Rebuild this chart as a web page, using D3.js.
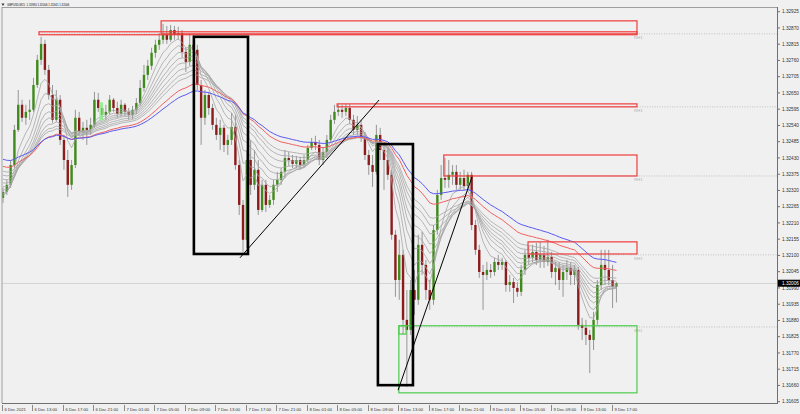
<!DOCTYPE html>
<html><head><meta charset="utf-8">
<script src="https://cdn.jsdelivr.net/npm/d3@7"></script>
<style>html,body{margin:0;padding:0;background:#f0f0f0;}svg{display:block;font-family:"Liberation Sans",Arial,sans-serif;}</style>
</head><body>
<svg id="c" width="800" height="414"></svg>
<script>
// ---------------- DATA ----------------
const title = "GBPUSD,M15  1.31980 1.32006 1.31941 1.32006";

const openP = [
1.32295,1.32315,1.32339,1.32406,1.32525,1.32610,1.32566,1.32586,1.32593,1.32677,
1.32762,1.32816,1.32728,1.32643,1.32559,1.32627,1.32491,1.32423,1.32339,1.32406,
1.32566,1.32518,1.32532,1.32525,1.32542,1.32627,1.32599,1.32576,1.32586,1.32627,
1.32599,1.32579,1.32610,1.32586,1.32576,1.32593,1.32616,1.32667,1.32711,1.32742,
1.32786,1.32813,1.32830,1.32847,1.32830,1.32863,1.32847,1.32853,1.32789,1.32755,
1.32813,1.32796,1.32677,1.32566,1.32643,1.32599,1.32542,1.32508,1.32532,1.32474,
1.32491,1.32535,1.32406,1.32271,1.32153,1.32423,1.32339,1.32390,1.32254,1.32339,
1.32271,1.32288,1.32339,1.32356,1.32383,1.32430,1.32423,1.32410,1.32423,1.32406,
1.32423,1.32464,1.32484,1.32474,1.32423,1.32450,1.32491,1.32559,1.32586,1.32593,
1.32586,1.32599,1.32559,1.32525,1.32542,1.32498,1.32440,1.32406,1.32383,1.32508,
1.32457,1.32423,1.32373,1.32170,1.32017,1.32102,1.31882,1.31848,1.31983,1.31950,
1.32136,1.32068,1.31983,1.31950,1.32186,1.32305,1.32362,1.32356,1.32373,1.32383,
1.32339,1.32362,1.32335,1.32373,1.32203,1.32119,1.32044,1.32034,1.32051,1.32044,
1.32078,1.32068,1.32078,1.32000,1.32010,1.31990,1.31977,1.32051,1.32102,1.32092,
1.32112,1.32085,1.32102,1.32078,1.32095,1.32044,1.32058,1.32017,1.32044,1.32058,
1.32034,1.32051,1.31865,1.31855,1.31831,1.31814,1.31882,1.32000,1.32068,1.32051,
1.32017,1.31994];

const highP = [
1.32329,1.32356,1.32423,1.32542,1.32660,1.32627,1.32610,1.32627,1.32701,1.32779,
1.32840,1.32830,1.32745,1.32677,1.32660,1.32643,1.32508,1.32457,1.32423,1.32593,
1.32586,1.32552,1.32559,1.32566,1.32654,1.32650,1.32610,1.32610,1.32643,1.32633,
1.32620,1.32627,1.32616,1.32599,1.32606,1.32633,1.32694,1.32745,1.32762,1.32803,
1.32830,1.32853,1.32884,1.32877,1.32880,1.32877,1.32874,1.32863,1.32803,1.32850,
1.32847,1.32813,1.32694,1.32660,1.32654,1.32613,1.32566,1.32559,1.32542,1.32508,
1.32582,1.32576,1.32423,1.32288,1.32457,1.32491,1.32457,1.32423,1.32356,1.32356,
1.32305,1.32356,1.32383,1.32396,1.32457,1.32450,1.32440,1.32437,1.32434,1.32440,
1.32474,1.32498,1.32505,1.32491,1.32464,1.32508,1.32576,1.32610,1.32613,1.32610,
1.32613,1.32613,1.32576,1.32572,1.32559,1.32518,1.32457,1.32440,1.32542,1.32532,
1.32474,1.32464,1.32390,1.32186,1.32153,1.32119,1.31983,1.32017,1.32051,1.32170,
1.32180,1.32085,1.32017,1.32203,1.32322,1.32406,1.32430,1.32423,1.32406,1.32406,
1.32383,1.32390,1.32383,1.32383,1.32220,1.32136,1.32068,1.32078,1.32071,1.32092,
1.32102,1.32092,1.32085,1.32034,1.32024,1.32010,1.32068,1.32119,1.32132,1.32136,
1.32142,1.32146,1.32132,1.32153,1.32112,1.32078,1.32078,1.32068,1.32085,1.32078,
1.32068,1.32061,1.31889,1.31882,1.31848,1.31909,1.32017,1.32119,1.32119,1.32119,
1.32068,1.32010];

const lowP = [
1.32278,1.32305,1.32329,1.32396,1.32518,1.32552,1.32542,1.32559,1.32586,1.32667,
1.32745,1.32711,1.32627,1.32549,1.32552,1.32474,1.32390,1.32298,1.32322,1.32396,
1.32505,1.32491,1.32474,1.32508,1.32532,1.32586,1.32559,1.32559,1.32576,1.32586,
1.32566,1.32569,1.32572,1.32559,1.32562,1.32579,1.32606,1.32654,1.32694,1.32728,
1.32769,1.32796,1.32816,1.32816,1.32823,1.32830,1.32830,1.32769,1.32721,1.32742,
1.32762,1.32660,1.32474,1.32542,1.32576,1.32525,1.32491,1.32457,1.32450,1.32440,
1.32474,1.32390,1.32237,1.32112,1.32126,1.32305,1.32322,1.32237,1.32247,1.32247,
1.32261,1.32271,1.32315,1.32339,1.32362,1.32403,1.32396,1.32396,1.32390,1.32396,
1.32413,1.32457,1.32457,1.32406,1.32406,1.32430,1.32481,1.32545,1.32572,1.32566,
1.32572,1.32545,1.32508,1.32508,1.32484,1.32423,1.32373,1.32332,1.32373,1.32423,
1.32322,1.32356,1.32153,1.31960,1.31950,1.31831,1.31655,1.31831,1.31899,1.31933,
1.32034,1.31950,1.31916,1.31933,1.32170,1.32288,1.32329,1.32329,1.32339,1.32322,
1.32322,1.32322,1.32322,1.32186,1.32102,1.32024,1.31916,1.32017,1.32024,1.32031,
1.32051,1.32051,1.31977,1.31977,1.31939,1.31960,1.31963,1.32034,1.32068,1.32078,
1.32068,1.32058,1.32058,1.32065,1.32024,1.32000,1.31983,1.31960,1.32017,1.32000,
1.32000,1.31848,1.31814,1.31797,1.31702,1.31780,1.31865,1.31983,1.32000,1.32000,
1.31922,1.31941];

const closeP = [
1.32315,1.32339,1.32406,1.32525,1.32610,1.32566,1.32586,1.32593,1.32677,1.32762,
1.32816,1.32728,1.32643,1.32559,1.32627,1.32491,1.32423,1.32339,1.32406,1.32566,
1.32518,1.32532,1.32525,1.32542,1.32627,1.32599,1.32576,1.32586,1.32627,1.32599,
1.32579,1.32610,1.32586,1.32576,1.32593,1.32616,1.32667,1.32711,1.32742,1.32786,
1.32813,1.32830,1.32847,1.32830,1.32863,1.32847,1.32853,1.32789,1.32755,1.32813,
1.32796,1.32677,1.32566,1.32643,1.32599,1.32542,1.32508,1.32532,1.32474,1.32491,
1.32535,1.32406,1.32271,1.32153,1.32423,1.32339,1.32390,1.32254,1.32339,1.32271,
1.32288,1.32339,1.32356,1.32383,1.32430,1.32423,1.32410,1.32423,1.32406,1.32423,
1.32464,1.32484,1.32474,1.32423,1.32450,1.32491,1.32559,1.32586,1.32593,1.32586,
1.32599,1.32559,1.32525,1.32542,1.32498,1.32440,1.32406,1.32383,1.32508,1.32457,
1.32423,1.32373,1.32170,1.32017,1.32102,1.31882,1.31848,1.31983,1.31950,1.32136,
1.32068,1.31983,1.31950,1.32186,1.32305,1.32362,1.32356,1.32373,1.32383,1.32339,
1.32362,1.32335,1.32373,1.32203,1.32119,1.32044,1.32034,1.32051,1.32044,1.32078,
1.32068,1.32078,1.32000,1.32010,1.31990,1.31977,1.32051,1.32102,1.32092,1.32112,
1.32085,1.32102,1.32078,1.32095,1.32044,1.32058,1.32017,1.32044,1.32058,1.32034,
1.32051,1.31865,1.31855,1.31831,1.31814,1.31882,1.32000,1.32068,1.32051,1.32017,
1.31994,1.32006];

const timeLabels = ["6 Dec 2021","6 Dec 13:00","6 Dec 17:00","6 Dec 21:00","7 Dec 01:00","7 Dec 05:00",
"7 Dec 09:00","7 Dec 13:00","7 Dec 17:00","7 Dec 21:00","8 Dec 01:00","8 Dec 05:00","8 Dec 09:00",
"8 Dec 13:00","8 Dec 17:00","8 Dec 21:00","9 Dec 01:00","9 Dec 05:00","9 Dec 09:00","9 Dec 13:00","9 Dec 17:00"];
const barsPerLabel = 8;

const priceTicks = [1.32925,1.32870,1.32815,1.32760,1.32705,1.32650,1.32595,1.32540,1.32485,1.32430,
1.32375,1.32320,1.32265,1.32210,1.32155,1.32100,1.32045,1.31990,1.31935,1.31880,1.31825,1.31770,
1.31715,1.31660,1.31605];
const currentPrice = 1.32006;

// moving averages (periods in bars, start values read at the left edge)
const grayPeriods = [6, 9, 12, 15, 18, 22, 26, 30];
const graySeeds   = [1.32298,1.32308,1.32322,1.32335,1.32349,1.32362,1.32376,1.32390];
const redPeriod = 40, redSeed = 1.32406;
const bluePeriod = 50, blueSeed = 1.32430;

// drawn objects (bar index / price)
const zoneB0 = [9.45, 41.5, 87.7, 115.7, 137.8, 103.9, 103.9, 25.5];
const zoneB1 = [166.4,166.4,166.4,166.4,166.4,166.4,105.8, 26.0];
const zoneTop = [1.32857,1.32894,1.32613,1.32440,1.32146,1.31862,1.31862,1.32616];
const zoneBot = [1.32847,1.32850,1.32603,1.32369,1.32105,1.31635,1.31834,1.32559];
const zoneKind = ["res","res","res","res","res","sup","sup","mark"];

const boxB0 = [50.1, 98.4];
const boxB1 = [64.3, 107.6];
const boxTop = [1.32840, 1.32477];
const boxBot = [1.32105, 1.31661];

const trendB0 = [62.2, 103.7];
const trendB1 = [98.7, 123.1];
const trendP0 = [1.32092, 1.31644];
const trendP1 = [1.32626, 1.32366];

const levelPrice = [1.32850, 1.32603, 1.32369, 1.32102, 1.31858];
const levelB0 = [9.45, 87.7, 115.7, 137.8, 103.9];
const levelName = ["RH1","RH1","RH1","RH1","SH1"];

// ---------------- DRAW ----------------
const svg = d3.select("#c");
const P = {left:2, top:7, right:777, bottom:403};
const n = closeP.length;
const x = d3.scaleLinear().domain([0, n-1]).range([3, 3 + (n-1)*3.81]);
const y = d3.scaleLinear().domain([1.31605, 1.32925]).range([401.7, 11.7]);

svg.append("rect").attr("width",800).attr("height",414).attr("fill","#f0f0f0");
svg.append("defs").append("clipPath").attr("id","clip")
  .append("rect").attr("x",P.left).attr("y",P.top).attr("width",P.right-P.left).attr("height",P.bottom-P.top);
const g = svg.append("g").attr("clip-path","url(#clip)");

// bid line
g.append("line").attr("x1",P.left).attr("x2",P.right)
  .attr("y1",Math.round(y(currentPrice))+0.5).attr("y2",Math.round(y(currentPrice))+0.5)
  .attr("stroke","#d4d4d4").attr("stroke-width",1);

// level dotted lines
levelPrice.forEach((p,i)=>{
  const yy = y(p);
  g.append("line").attr("x1",x(levelB0[i])).attr("x2",P.right).attr("y1",yy).attr("y2",yy)
    .attr("stroke","#b4b4b4").attr("stroke-width",0.8).attr("stroke-dasharray","1,1.5");
  g.append("text").attr("x",x(166.4)-3).attr("y",yy+5).attr("font-size",4.3).attr("fill","#b0b0b0").text(levelName[i]);
});

// candles
const idx = d3.range(n);
g.append("g").selectAll("line").data(idx).join("line")
  .attr("x1",i=>x(i)).attr("x2",i=>x(i))
  .attr("y1",i=>y(highP[i])).attr("y2",i=>y(lowP[i]))
  .attr("stroke","#969696").attr("stroke-width",1);
g.append("g").selectAll("rect").data(idx).join("rect")
  .attr("x",i=>x(i)-1.2).attr("width",2.4)
  .attr("y",i=>y(Math.max(openP[i],closeP[i])))
  .attr("height",i=>Math.max(1,Math.abs(y(openP[i])-y(closeP[i]))))
  .attr("fill",i=>closeP[i]>=openP[i] ? "#3f8a1c" : "#8c1b1b");

// moving averages
function ema(data, period, seed){ const a = 2/(period+1); let v = seed; return data.map(c => (v = v + a*(c - v))); }
const line = d3.line().x((d,i)=>x(i)).y(d=>y(d)).curve(d3.curveLinear);
grayPeriods.forEach((p,k)=>{
  g.append("path").attr("d",line(ema(closeP,p,graySeeds[k]))).attr("fill","none")
    .attr("stroke","#a6a6a6").attr("stroke-width",0.8);
});
g.append("path").attr("d",line(ema(closeP,redPeriod,redSeed))).attr("fill","none").attr("stroke","#f06060").attr("stroke-width",1);
g.append("path").attr("d",line(ema(closeP,bluePeriod,blueSeed))).attr("fill","none").attr("stroke","#5a5af0").attr("stroke-width",1);

// zones
zoneB0.forEach((b,i)=>{
  const col = zoneKind[i]==="res" ? "#f03c3c" : (zoneKind[i]==="sup" ? "#4ccc4c" : "#8ef08e");
  g.append("rect").attr("x",x(b)).attr("width",x(zoneB1[i])-x(b))
    .attr("y",y(zoneTop[i])).attr("height",y(zoneBot[i])-y(zoneTop[i]))
    .attr("fill","none").attr("stroke",col).attr("stroke-width",zoneKind[i]==="mark"?1.5:1.2);
});
// black boxes
boxB0.forEach((b,i)=>{
  g.append("rect").attr("x",x(b)).attr("width",x(boxB1[i])-x(b))
    .attr("y",y(boxTop[i])).attr("height",y(boxBot[i])-y(boxTop[i]))
    .attr("fill","none").attr("stroke","#000").attr("stroke-width",2.6);
});
// trend lines
trendB0.forEach((b,i)=>{
  g.append("line").attr("x1",x(b)).attr("y1",y(trendP0[i])).attr("x2",x(trendB1[i])).attr("y2",y(trendP1[i]))
    .attr("stroke","#000").attr("stroke-width",1);
});

// frame
svg.append("line").attr("x1",P.left).attr("x2",P.left).attr("y1",P.top).attr("y2",P.bottom).attr("stroke","#a0a0a0");
svg.append("line").attr("x1",P.left).attr("x2",P.right).attr("y1",P.top+0.5).attr("y2",P.top+0.5).attr("stroke","#a0a0a0");
svg.append("line").attr("x1",P.right+0.5).attr("x2",P.right+0.5).attr("y1",P.top).attr("y2",P.bottom+1).attr("stroke","#707070");
svg.append("line").attr("x1",P.left).attr("x2",P.right+1).attr("y1",P.bottom+0.5).attr("y2",P.bottom+0.5).attr("stroke","#707070");

// price axis
const ya = svg.append("g");
priceTicks.forEach(t=>{
  const yy = y(t);
  ya.append("line").attr("x1",P.right).attr("x2",P.right+3).attr("y1",yy).attr("y2",yy).attr("stroke","#707070");
  ya.append("text").attr("x",P.right+5).attr("y",yy+1.6).attr("font-size",4.7).attr("fill","#333").text(t.toFixed(5));
});
const cy = y(currentPrice);
ya.append("rect").attr("x",P.right+1).attr("y",cy-3.5).attr("width",23).attr("height",7).attr("fill","#000");
ya.append("text").attr("x",P.right+5).attr("y",cy+1.7).attr("font-size",4.7).attr("fill","#fff").text(currentPrice.toFixed(5));

// time axis
const xa = svg.append("g");
timeLabels.forEach((lab,k)=>{
  const xx = Math.round(x(k*barsPerLabel)) - 0.5;
  xa.append("line").attr("x1",xx).attr("x2",xx).attr("y1",P.bottom+2).attr("y2",P.bottom+8).attr("stroke","#707070").attr("stroke-width",0.8);
  xa.append("text").attr("x",xx+2).attr("y",P.bottom+7.5).attr("font-size",4.2).attr("fill","#333").text(lab);
});

// title
svg.append("path").attr("d","M1.5,3.5 L4.5,3.5 L3,6 Z").attr("fill","#333");
svg.append("text").attr("x",7).attr("y",6.3).attr("font-size",2.8).attr("fill","#111").attr("xml:space","preserve").text(title);
</script>
</body></html>
